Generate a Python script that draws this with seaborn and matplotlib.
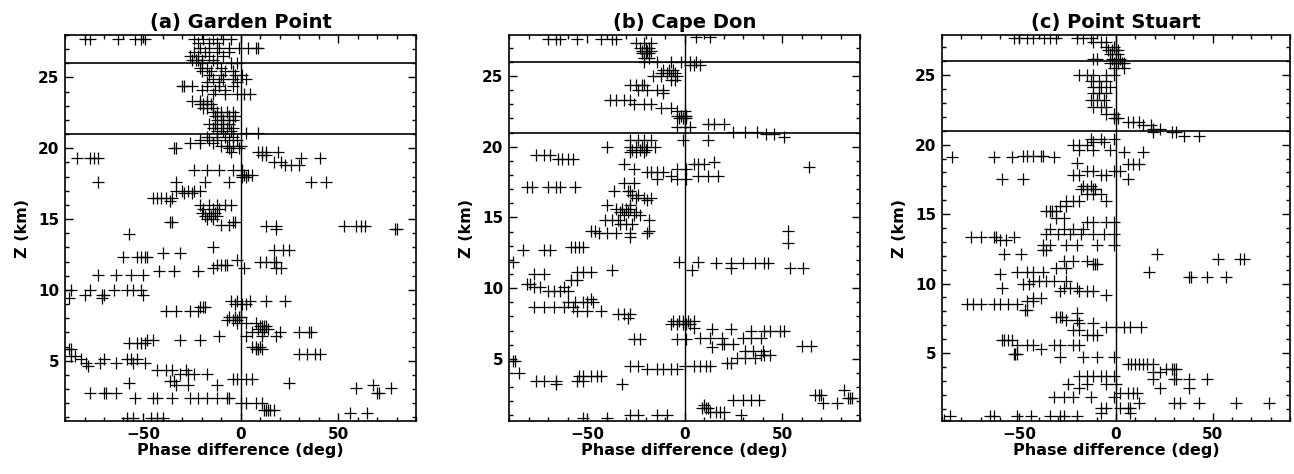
import numpy as np
import pandas as pd
import seaborn as sns
import matplotlib.pyplot as plt
from matplotlib.ticker import MultipleLocator

# Puntos: (altura km, [diferencias de fase en grados])
garden_rows = [
    (27.75, [-80, -77, -63, -54, -51, -49]),
    (27.7, [-24, -19, -14, -9, -5]),
    (27.45, [-22, -16, -12]),
    (27.1, [-21, -16, -11, -6, -1, 4, 8, 9]),
    (26.8, [-24, -18, -12, -6]),
    (26.5, [-26, -22, -16, -9]),
    (26.25, [-25, -23, -22, -20, -14]),
    (26.0, [-20, -12, -5, -2]),
    (25.7, [-21, -17, -10]),
    (25.45, [-20, -15, -8, -4]),
    (25.15, [-16, -10, -3, 1]),
    (24.9, [-14, -9, -4, 3]),
    (24.65, [-17, -11, -2]),
    (24.4, [-30, -29, -25, -17, -11, -4]),
    (24.15, [-20, -13, -8]),
    (23.8, [-14, -8, -2, 2, 5]),
    (23.35, [-25, -21, -17]),
    (23.1, [-21, -19, -17, -15]),
    (22.85, [-19, -17, -14]),
    (22.55, [-14, -12, -10, -7, -4]),
    (22.25, [-13, -10, -6, -3]),
    (22.0, [-12, -9, -6, -4]),
    (21.7, [-16, -13, -9, -6]),
    (21.45, [-14, -10, -7, -4]),
    (21.2, [-12, -9, -5]),
    (21.1, [3, 9]),
    (20.8, [-17, -12, -8, -4]),
    (20.6, [-21, -16, -12, -6, -2]),
    (20.4, [-26, -21, -14]),
    (20.15, [-10, -7, -4, 0]),
    (20.0, [-34, -33, -6, -1]),
    (19.75, [-5, 9, 11, 13, 19]),
    (19.55, [11, 13]),
    (19.3, [-84, -77, -75, -73, 31, 41]),
    (19.05, [17, 21]),
    (18.8, [23, 26, 30]),
    (18.5, [-24, -17, -11, -4, 1]),
    (18.15, [1, 2, 4, 6]),
    (17.95, [1, 3]),
    (17.6, [-73, -33, -18, -6, 36, 44]),
    (17.0, [-33, -30, -27, -24, -21]),
    (16.85, [-29, -25]),
    (16.5, [-45, -43, -41, -38, -35]),
    (16.3, [-36]),
    (16.0, [-21, -16, -12, -8, -5]),
    (15.7, [-19, -14, -11]),
    (15.45, [-20, -16, -13]),
    (15.25, [-18, -15, -12]),
    (15.0, [-17, -14]),
    (14.8, [-36, -35, -4, -3]),
    (14.6, [-10, -6]),
    (14.5, [13, 18, 53, 59, 62, 64]),
    (14.3, [18, 79, 80]),
    (13.95, [-57]),
    (13.05, [-14]),
    (12.85, [17, 22, 25]),
    (12.6, [-40, -31]),
    (12.35, [-60, -53, -51, -49, -48]),
    (12.1, [-2]),
    (12.0, [10, 13, 17, 18]),
    (11.75, [-12, -10, -8, -7]),
    (11.55, [-14, 2, 18, 21]),
    (11.35, [-42, -34, -22]),
    (11.05, [-73, -64, -56, -50]),
    (10.0, [-87, -77, -65, -58, -55, -51]),
    (9.65, [-80, -71, -70, -50]),
    (9.4, [-88, -71]),
    (9.2, [-5, -2, 5, 13, 23]),
    (9.0, [-3, 1, 3]),
    (8.8, [-21, -18, -19]),
    (8.5, [-38, -33, -26, -22]),
    (8.1, [-6, -3, -1, 0]),
    (7.9, [-7, -4, -2]),
    (7.7, [3, 8, -2]),
    (7.45, [10, 11, 12, 13]),
    (7.25, [9, 12, 14]),
    (7.0, [6, 11, 20, 30, 35, 36]),
    (6.75, [-11, 3, 11, 18]),
    (6.5, [-48, -45, -31, -21]),
    (6.25, [-57, -53, -51, -49]),
    (6.0, [6, 8, 10]),
    (5.85, [8, 9, 11]),
    (5.8, [-88, -87]),
    (5.5, [30, 34, 38, 41]),
    (5.35, [-87, -85]),
    (5.1, [-82, -70, -58, -56, -53]),
    (4.85, [-79, -72, -64, -55, -49]),
    (4.6, [-78]),
    (4.35, [-43, -38, -35, -28]),
    (4.1, [-31, -27, -24, -17]),
    (3.75, [-4, -2, 3, 6]),
    (3.55, [-36, -34]),
    (3.4, [-57, 25]),
    (3.3, [-33, -27, -12, 68]),
    (3.05, [59, 77]),
    (2.7, [-77, -70, -69, -64, 70, 71]),
    (2.35, [-54, -45, -43, -35, -26, -22, -17, -12, -7, -6]),
    (2.0, [0, 3, 8, 11]),
    (1.55, [12, 13, 14, 15, 17]),
    (1.3, [56, 65]),
    (0.95, [-58, -55, -46, -43, -40]),
]

cape_rows = [
    (27.75, [6, 13]),
    (27.6, [-70, -66, -64, -55, -43, -37, -35]),
    (27.3, [-25, -21, -17]),
    (27.0, [-23, -20, -18]),
    (26.8, [-22, -19, -17]),
    (26.6, [-22, -20, -18]),
    (26.3, [-21, -18]),
    (26.0, [-21, -14, -7, -2, 3, 6]),
    (25.8, [3, 5, 8]),
    (25.4, [-11, -8, -6]),
    (25.2, [-12, -9, -5]),
    (25.0, [-16, -12, -7, -4]),
    (24.7, [-7, -5]),
    (24.35, [-28, -25, -22, -21]),
    (24.0, [-24, -19, -14, -11]),
    (23.8, [-11]),
    (23.3, [-38, -35, -31, -28]),
    (23.05, [-26, -21, -17]),
    (22.75, [-12, -7]),
    (22.5, [-4, 0]),
    (22.2, [-4, -2, 0, 1]),
    (22.0, [-3, -1, 1]),
    (21.6, [12, 15, 20]),
    (21.4, [-4, 0, 3]),
    (21.05, [25, 31, 37]),
    (20.9, [42, 46]),
    (20.7, [51]),
    (20.45, [-28, -24, -21, -17, -1, 12]),
    (20.0, [-40, -28, -25, -22, -19, -15]),
    (19.8, [-27, -23, -20]),
    (19.6, [-28, -25, -21]),
    (19.4, [-76, -72, -69]),
    (19.15, [-65, -63, -60, -57]),
    (18.8, [-31, 5, 7, 10]),
    (18.9, [15]),
    (18.55, [64]),
    (18.45, [-26, -4, 1]),
    (18.2, [-19, -17, -14, -11]),
    (17.95, [-7, 7, 12, 17]),
    (17.7, [-14, -4, 1]),
    (17.4, [-31, -26]),
    (17.15, [-81, -78, -70, -66, -64, -56]),
    (16.9, [-36, -29, -28]),
    (16.6, [-27, -24]),
    (16.4, [-25, -21, -17]),
    (16.2, [-19]),
    (15.9, [-40, -28]),
    (15.6, [-35, -32, -30, -28]),
    (15.4, [-33, -29, -25]),
    (15.2, [-31, -26, -23]),
    (14.8, [-41, -37, -34, -18]),
    (14.5, [-33, -30, -27]),
    (14.05, [-48, -46, -18, 53]),
    (13.9, [-44, -40, -35, -28, -19]),
    (13.6, [-28]),
    (13.2, [53]),
    (12.9, [-58, -56, -54, -52]),
    (12.7, [-83, -72, -69]),
    (11.85, [-88, -3, 7]),
    (11.75, [16, 24, 30, 36, 41, 43]),
    (11.4, [24, 54, 61]),
    (11.25, [-37, 4]),
    (11.15, [-55, -52, -48]),
    (11.0, [-77, -72]),
    (10.55, [-58, -55]),
    (10.3, [-81, -79]),
    (10.1, [-77, -74, -62]),
    (9.8, [-70, -67, -64, -60]),
    (9.25, [-48]),
    (9.0, [-60, -56, -52, -50, -47]),
    (8.65, [-77, -72, -67, -62, -57]),
    (8.4, [-55, -50, -43]),
    (8.15, [-34, -31, -28]),
    (7.9, [-29]),
    (7.7, [-6, -3, -1, 2, 5]),
    (7.45, [-7, -4, -1, 1, 3]),
    (7.2, [5]),
    (7.1, [14, 24]),
    (6.95, [34, 41, 44, 49, 51]),
    (6.5, [8, 13, 19, 30, 34, 39]),
    (6.4, [-26, -23, -4, 1]),
    (6.05, [19, 20, 25]),
    (5.9, [60, 65]),
    (5.8, [14]),
    (5.55, [31, 35, 40]),
    (5.3, [39, 41, 44]),
    (5.05, [27, 31, 36]),
    (4.85, [-88, -87]),
    (4.7, [22, 24]),
    (4.5, [-28, -24, 0, 5, 8, 11, 13]),
    (4.25, [-19, -14, -11, -7, -4]),
    (4.0, [-85]),
    (3.75, [-54, -52, -48, -45, -43]),
    (3.45, [-76, -72, -66, -55, -52]),
    (3.2, [-66, -32]),
    (2.8, [82]),
    (2.45, [67, 69, 70]),
    (2.2, [84, 85, 86]),
    (2.1, [25, 30, 34, 38]),
    (1.85, [71, 78]),
    (1.75, [10]),
    (1.5, [9, 11, 12]),
    (1.25, [13, 16, 18, 20]),
    (1.0, [-28, -24, -14, -9, 29]),
    (0.8, [-52, -40]),
]

stuart_rows = [
    (27.65, [-53, -50, -46, -43, -37, -34, -31, -20, -17, -13]),
    (27.4, [-12, -8, -5]),
    (27.05, [-5, -1]),
    (26.8, [-4, -2, 0, 1]),
    (26.5, [-3, 1]),
    (26.2, [-12, -10, -2, 2]),
    (25.85, [-3, -1, 1, 3, 4]),
    (25.5, [-1, 4]),
    (25.0, [-19, -15, -12, -5, -1]),
    (24.6, [-13, -9, -5]),
    (24.15, [-12, -8, -3]),
    (23.7, [-12, -9, -5]),
    (23.2, [-13, -10, -6]),
    (22.7, [-12, -8, -5]),
    (22.2, [-5, -1]),
    (21.9, [-1, 0, 1]),
    (21.6, [6, 9, 12]),
    (21.4, [14, 18]),
    (21.15, [19, 23]),
    (20.9, [19, 29, 31]),
    (20.65, [35, 43]),
    (20.4, [-13, -8, -1]),
    (20.2, [-12, -6]),
    (19.95, [-22, -19, -15]),
    (19.6, [-19, -12, -3]),
    (19.45, [4, 14]),
    (19.2, [-48, -46, -43, -39, -38]),
    (19.1, [-85, -63, -54, -32]),
    (18.7, [-20]),
    (18.6, [6, 9, 12]),
    (18.1, [-15, -12, -1, 2]),
    (17.8, [-22, -19, -8, -5]),
    (17.55, [-59, -48, 6]),
    (17.05, [-17, -13]),
    (16.8, [-18, -15, -12, -11]),
    (16.45, [-15, -12, -8]),
    (15.95, [-26, -22, -19, -5]),
    (15.6, [-29, -26]),
    (15.25, [-36, -34, -33, -31]),
    (14.75, [-31, -27]),
    (14.4, [-15, -12, -5, -1]),
    (13.9, [-34, -27, -22, -17]),
    (13.6, [-36, -30, -24, -18, -12, -6, -1]),
    (13.35, [-75, -70, -63, -62, -53]),
    (13.1, [-60, -57]),
    (12.75, [-38, -34, -26, -20, -10, -1]),
    (12.4, [-38, -36]),
    (12.15, [-58, -49, 21]),
    (11.8, [53, 64, 66]),
    (11.65, [-27, -22, -15]),
    (11.4, [-11, -10, -12]),
    (11.15, [-31, -26]),
    (10.8, [-51, -46, -43, -38, 17]),
    (10.7, [-60]),
    (10.45, [38, 39, 47, 57]),
    (10.2, [-43, -40, -36, -32, -26]),
    (9.95, [-48, -45]),
    (9.7, [-59, -27, -24, -20]),
    (9.45, [-29, -19, -15, -12]),
    (9.2, [-5]),
    (8.98, [-43, -39]),
    (8.75, [-46, -43]),
    (8.5, [-77, -74, -70, -63, -60, -56, -51]),
    (8.1, [-47, -46]),
    (7.9, [-20]),
    (7.6, [-31, -29, -28]),
    (7.4, [-26, -20]),
    (7.15, [-19, -12]),
    (6.9, [-5, 0, 4, 7, 13]),
    (6.65, [-22, -19]),
    (6.3, [-15, -12, -10]),
    (5.9, [-59, -58, -56, -54]),
    (5.55, [-51, -46, -43, -32, -29, -22, -19]),
    (5.3, [-39]),
    (4.95, [-53, -52, -51]),
    (4.7, [-29, -17, -10, -1]),
    (4.2, [6, 8, 10, 12, 14, 16, 19]),
    (3.85, [26, 29, 30, 31]),
    (3.6, [19, 23]),
    (3.35, [-19, -15, -12, -8, -5, -1]),
    (3.1, [19, 30, 31, 38, 47]),
    (2.75, [-25, -15, -5, 0]),
    (2.5, [-19, 23, 38]),
    (2.15, [2, 6, 9, 11]),
    (1.8, [-32, -27, -22, -13, -1]),
    (1.4, [12, 30, 33, 43, 62, 79]),
    (1.05, [-8, -5, 2, 6, 7]),
    (0.7, [-8, 7]),
    (0.45, [-86, -65, -63, -51, -44, -34, -29, -27, -20]),
    (0.2, [-89]),
]

titulos = ['(a) Garden Point', '(b) Cape Don', '(c) Point Stuart']
limites_z = [(0.75, 28.0), (0.6, 27.9), (0.1, 27.9)]
lineas_z = [21, 26]


def a_tabla(filas):
    z = [zz for zz, fases in filas for _ in fases]
    fase = [f for _, fases in filas for f in fases]
    return pd.DataFrame({'fase': fase, 'z': z})


sns.set_style('ticks')
plt.rcParams['font.family'] = ['DejaVu Sans']
plt.rcParams['font.weight'] = 'bold'
plt.rcParams['text.color'] = 'black'
plt.rcParams['axes.labelcolor'] = 'black'
plt.rcParams['xtick.color'] = 'black'
plt.rcParams['ytick.color'] = 'black'
plt.rcParams['xtick.direction'] = 'in'
plt.rcParams['ytick.direction'] = 'in'

fig = plt.figure(figsize=(12.94, 4.74), dpi=100)
izquierdas = [65 / 1294, 509 / 1294, 942 / 1294]
anchos = [351 / 1294, 351 / 1294, 348 / 1294]

for i, filas in enumerate([garden_rows, cape_rows, stuart_rows]):
    ax = fig.add_axes([izquierdas[i], 53 / 474, anchos[i], 386 / 474])
    df = a_tabla(filas)
    sns.scatterplot(data=df, x='fase', y='z', marker='+', s=64,
                    color='black', linewidth=0.9, ax=ax, legend=False)
    ax.axvline(0, color='black', lw=1.0)
    for zl in lineas_z:
        ax.axhline(zl, color='black', lw=1.2)
    ax.set_xlim(-90, 90)
    ax.set_ylim(*limites_z[i])
    ax.xaxis.set_major_locator(MultipleLocator(50))
    ax.xaxis.set_minor_locator(MultipleLocator(10))
    ax.yaxis.set_major_locator(MultipleLocator(5))
    ax.yaxis.set_minor_locator(MultipleLocator(1))
    ax.tick_params(which='both', direction='in', top=True, right=True,
                   width=1.0, colors='black', labelsize=11)
    ax.tick_params(which='major', length=5.5, pad=4)
    ax.tick_params(which='minor', length=3)
    for lab in ax.get_xticklabels() + ax.get_yticklabels():
        lab.set_fontweight('bold')
    for sp in ax.spines.values():
        sp.set_visible(True)
        sp.set_linewidth(1.2)
        sp.set_color('black')
    ax.set_xlabel('Phase difference (deg)', fontsize=11.5, fontweight='bold', labelpad=1)
    ax.set_ylabel('Z (km)', fontsize=11.5, fontweight='bold', labelpad=6)
    ax.set_title(titulos[i], fontsize=14, fontweight='bold', pad=5)

fig.savefig('out.png', dpi=100)
